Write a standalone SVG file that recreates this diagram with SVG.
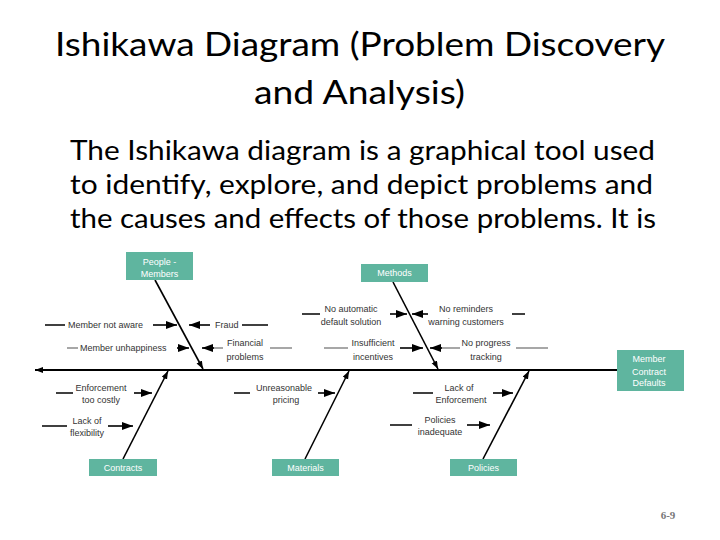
<svg xmlns="http://www.w3.org/2000/svg" width="720" height="540" viewBox="0 0 720 540">
<defs>
<marker id="ah" markerUnits="userSpaceOnUse" markerWidth="12" markerHeight="10" refX="11" refY="4" orient="auto">
<path d="M0,0 L11,4 L0,8 Z" fill="#000"/>
</marker>
<marker id="ahs" markerUnits="userSpaceOnUse" markerWidth="10" markerHeight="8" refX="8" refY="3" orient="auto">
<path d="M0,0 L8,3 L0,6 Z" fill="#000"/>
</marker>
<style>
.title{font-family:Lato,"Open Sans","Liberation Sans",sans-serif;font-size:33px;fill:#000}
.body{font-family:Lato,"Open Sans","Liberation Sans",sans-serif;font-size:27px;fill:#000}
.lbl{font-family:"Liberation Sans",Arial,sans-serif;font-size:9px;fill:#333}
.c{text-anchor:middle}
.box{fill:#5fb59f}
.bt{font-family:"Liberation Sans",Arial,sans-serif;font-size:9px;fill:#fff;text-anchor:middle}
.bone{stroke:#000;stroke-width:1.6;fill:none}
.arr{stroke:#000;stroke-width:1.6;fill:none}
.tail{stroke:#000;stroke-width:1.5}
.gtail{stroke:#777;stroke-width:1.3}
.pg{font-family:"Liberation Serif","Times New Roman",serif;font-size:11px;font-weight:bold;fill:#777;text-anchor:middle}
</style>
</defs>
<rect width="720" height="540" fill="#fff"/>
<text class="title" x="55" y="56" textLength="610" lengthAdjust="spacingAndGlyphs">Ishikawa Diagram (Problem Discovery</text>
<text class="title" x="254" y="104" textLength="211" lengthAdjust="spacingAndGlyphs">and Analysis)</text>
<text class="body" x="70" y="160" textLength="585" lengthAdjust="spacingAndGlyphs">The Ishikawa diagram is a graphical tool used</text>
<text class="body" x="70" y="194" textLength="583" lengthAdjust="spacingAndGlyphs">to identify, explore, and depict problems and</text>
<text class="body" x="70" y="228" textLength="586" lengthAdjust="spacingAndGlyphs">the causes and effects of those problems. It is</text>

<g id="connectors">
<line x1="617" y1="370" x2="35" y2="370" stroke="#000" stroke-width="2" marker-end="url(#ahs)"/>
<line class="bone" x1="155" y1="280" x2="203" y2="369" marker-end="url(#ahs)"/>
<line class="bone" x1="393" y1="282" x2="438" y2="369" marker-end="url(#ahs)"/>
<line class="bone" x1="123" y1="459" x2="168" y2="371" marker-end="url(#ahs)"/>
<line class="bone" x1="305" y1="459" x2="349" y2="371" marker-end="url(#ahs)"/>
<line class="bone" x1="483" y1="459" x2="529" y2="371" marker-end="url(#ahs)"/>
<line class="tail" x1="45" y1="325" x2="65" y2="325"/>
<line class="arr" x1="153" y1="325" x2="177" y2="325" marker-end="url(#ah)"/>
<line class="arr" x1="210" y1="325" x2="189" y2="325" marker-end="url(#ah)"/>
<line class="tail" x1="242" y1="325" x2="268" y2="325"/>
<line class="gtail" x1="67" y1="348" x2="78" y2="348"/>
<line class="arr" x1="177" y1="348" x2="189" y2="348" marker-end="url(#ah)"/>
<line class="gtail" x1="223" y1="348" x2="212" y2="348"/>
<line class="arr" x1="214" y1="348" x2="202" y2="348" marker-end="url(#ah)"/>
<line class="gtail" x1="270" y1="348" x2="292" y2="348"/>
<line class="tail" x1="302" y1="314" x2="320" y2="314"/>
<line class="arr" x1="390" y1="314" x2="407" y2="314" marker-end="url(#ah)"/>
<line class="arr" x1="428" y1="314" x2="412" y2="314" marker-end="url(#ah)"/>
<line class="tail" x1="512" y1="314" x2="525" y2="314"/>
<line class="gtail" x1="324" y1="348" x2="348" y2="348"/>
<line class="arr" x1="400" y1="348" x2="423" y2="348" marker-end="url(#ah)"/>
<line class="gtail" x1="460" y1="348" x2="440" y2="348"/>
<line class="arr" x1="442" y1="348" x2="430" y2="348" marker-end="url(#ah)"/>
<line class="gtail" x1="516" y1="348" x2="548" y2="348"/>
<line class="tail" x1="56" y1="393" x2="73" y2="393"/>
<line class="arr" x1="134" y1="393" x2="152" y2="393" marker-end="url(#ah)"/>
<line class="tail" x1="42" y1="426" x2="67" y2="426"/>
<line class="arr" x1="108" y1="426" x2="133" y2="426" marker-end="url(#ah)"/>
<line class="tail" x1="234" y1="393" x2="250" y2="393"/>
<line class="arr" x1="318" y1="393" x2="335" y2="393" marker-end="url(#ah)"/>
<line class="tail" x1="413" y1="393" x2="433" y2="393"/>
<line class="arr" x1="493" y1="393" x2="513" y2="393" marker-end="url(#ah)"/>
<line class="tail" x1="390" y1="425" x2="412" y2="425"/>
<line class="arr" x1="467" y1="425" x2="490" y2="425" marker-end="url(#ah)"/>
</g>

<g id="people">
<rect class="box" x="126" y="252" width="67" height="28"/>
<text class="bt" x="159.5" y="265">People -</text>
<text class="bt" x="159.5" y="277">Members</text>
</g>
<g id="methods">
<rect class="box" x="361" y="264" width="67" height="18"/>
<text class="bt" x="394.5" y="276">Methods</text>
</g>
<g id="effect">
<rect class="box" x="617" y="350" width="67" height="41"/>
<text class="bt" x="649" y="362">Member</text>
<text class="bt" x="649" y="375">Contract</text>
<text class="bt" x="649" y="386">Defaults</text>
</g>
<g id="contracts">
<rect class="box" x="89" y="459" width="68" height="17"/>
<text class="bt" x="123" y="471">Contracts</text>
</g>
<g id="materials">
<rect class="box" x="272" y="459" width="67" height="17"/>
<text class="bt" x="305.5" y="471">Materials</text>
</g>
<g id="policies">
<rect class="box" x="450" y="459" width="67" height="17"/>
<text class="bt" x="483.5" y="471">Policies</text>
</g>

<g id="cause-member-not-aware"><text class="lbl" x="68" y="328">Member not aware</text></g>
<g id="cause-fraud"><text class="lbl" x="215" y="328">Fraud</text></g>
<g id="cause-member-unhappiness"><text class="lbl" x="80" y="351">Member unhappiness</text></g>
<g id="cause-financial"><text class="lbl c" x="245" y="346">Financial</text><text class="lbl c" x="245" y="359.5">problems</text></g>
<g id="cause-no-automatic"><text class="lbl c" x="351" y="311.5">No automatic</text><text class="lbl c" x="351" y="324.5">default solution</text></g>
<g id="cause-no-reminders"><text class="lbl c" x="466" y="311.5">No reminders</text><text class="lbl c" x="466" y="324.5">warning customers</text></g>
<g id="cause-insufficient"><text class="lbl c" x="373" y="346">Insufficient</text><text class="lbl c" x="373" y="359.5">incentives</text></g>
<g id="cause-no-progress"><text class="lbl c" x="486" y="346">No progress</text><text class="lbl c" x="486" y="359.5">tracking</text></g>
<g id="cause-enforcement-costly"><text class="lbl c" x="101" y="390.5">Enforcement</text><text class="lbl c" x="101" y="402.5">too costly</text></g>
<g id="cause-lack-flexibility"><text class="lbl c" x="87" y="423.5">Lack of</text><text class="lbl c" x="87" y="435.5">flexibility</text></g>
<g id="cause-unreasonable"><text class="lbl c" x="284" y="390.5">Unreasonable</text><text class="lbl c" x="286" y="402.5">pricing</text></g>
<g id="cause-lack-enforcement"><text class="lbl c" x="459" y="390.5">Lack of</text><text class="lbl c" x="461" y="402.5">Enforcement</text></g>
<g id="cause-policies-inadequate"><text class="lbl c" x="440" y="422.5">Policies</text><text class="lbl c" x="440" y="435">inadequate</text></g>

<text class="pg" x="668" y="519">6-9</text>
</svg>
